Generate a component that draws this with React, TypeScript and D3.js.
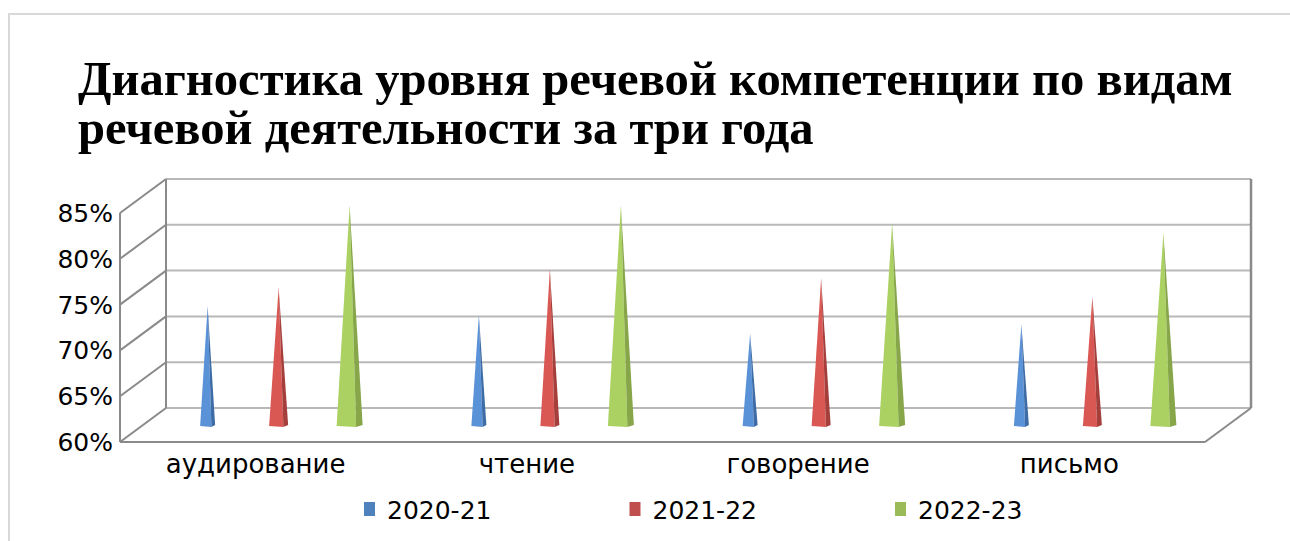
import * as d3 from "d3";

const title = ["Диагностика уровня речевой компетенции по видам", "речевой деятельности за три года"];
const categories = ["аудирование", "чтение", "говорение", "письмо"];
const seriesNames = ["2020-21", "2021-22", "2022-23"];
const s2020 = [0.73, 0.72, 0.70, 0.71];
const s2021 = [0.75, 0.77, 0.76, 0.74];
const s2022 = [0.84, 0.84, 0.82, 0.81];
const yTicks = [0.6, 0.65, 0.7, 0.75, 0.8, 0.85];

const seriesValues = [s2020, s2021, s2022];
const lightColors = ["#5a92d8", "#d95853", "#acd163"];
const darkColors = ["#3e6ca6", "#a53f3c", "#86a649"];
const legendColors = ["#4f81bd", "#c0504d", "#9bbb59"];
const coneWidths = [15, 19, 26];

// 3d box
const left = 120;
const right = 1205;
const bottom = 442;
const dx = 46;
const dy = -34;

export default function App() {
  const x = d3.scaleBand().domain(categories).range([left, right]);
  const inner = d3.scalePoint().domain(seriesNames).range([-71, 71]);
  const y = d3.scaleLinear().domain([0.6, 0.85]).range([bottom, 213]);
  const legendX = d3.scalePoint().domain(seriesNames).range([364, 895]);
  const fmt = d3.format(".0%");
  const top = y(0.85);
  const gridColor = "#b8b8b8";
  const edgeColor = "#8a8a8a";

  return (
    <svg width={1290} height={541} style={{ position: "absolute", left: 0, top: 0 }}>
      <rect x={9} y={14} width={1400} height={700} fill="#fff" stroke="#d9d9d9" strokeWidth={2} />

      {title.map((t, i) => (
        <text key={t} x={78} y={95 + i * 49} fontFamily="Liberation Serif" fontWeight="bold" fontSize={48.6} fill="#000">
          {t}
        </text>
      ))}

      {/* back wall gridlines */}
      {yTicks.map((t) => (
        <line key={"g" + t} x1={left + dx} x2={right + dx} y1={y(t) + dy} y2={y(t) + dy} stroke={gridColor} strokeWidth={2} />
      ))}
      {/* side wall diagonals */}
      {yTicks.map((t) => (
        <line key={"d" + t} x1={left} x2={left + dx} y1={y(t)} y2={y(t) + dy} stroke={edgeColor} strokeWidth={2} />
      ))}
      <line x1={left + dx} x2={left + dx} y1={top + dy} y2={bottom + dy} stroke={edgeColor} strokeWidth={2} />
      <line x1={right + dx} x2={right + dx} y1={top + dy} y2={bottom + dy} stroke={edgeColor} strokeWidth={2.5} />
      <line x1={left} x2={left} y1={top} y2={bottom} stroke={edgeColor} strokeWidth={2} />
      {/* floor */}
      <line x1={left} x2={right} y1={bottom} y2={bottom} stroke={edgeColor} strokeWidth={2} />
      <line x1={right} x2={right + dx} y1={bottom} y2={bottom + dy} stroke={edgeColor} strokeWidth={2} />

      {yTicks.map((t) => (
        <text key={"t" + t} x={113} y={y(t) + 9} textAnchor="end" fontFamily="DejaVu Sans" fontSize={25} fill="#000">
          {fmt(t)}
        </text>
      ))}

      {categories.map((c, ci) =>
        seriesNames.map((s, si) => {
          const v = seriesValues[si][ci];
          const cx = (x(c) as number) + x.bandwidth() / 2 + (inner(s) as number) + dx / 2;
          const by = y(0.6) + dy / 2 + 1;
          const ty = y(v) + dy / 2;
          const w = coneWidths[si];
          const split = cx + w * 0.25;
          return (
            <g key={c + s}>
              <polygon points={`${cx - w / 2},${by} ${cx},${ty} ${split},${by + 1}`} fill={lightColors[si]} />
              <polygon points={`${split},${by + 1} ${cx},${ty} ${cx + w / 2},${by - 1}`} fill={darkColors[si]} />
            </g>
          );
        })
      )}

      {categories.map((c) => (
        <text key={"c" + c} x={(x(c) as number) + x.bandwidth() / 2} y={473} textAnchor="middle" fontFamily="DejaVu Sans" fontSize={26} fill="#000">
          {c}
        </text>
      ))}

      {seriesNames.map((s, i) => (
        <g key={"l" + s} transform={`translate(${legendX(s)},502)`}>
          <rect x={0} y={0} width={11} height={14} fill={legendColors[i]} />
          <text x={23} y={17} fontFamily="DejaVu Sans" fontSize={25} fill="#000">
            {s}
          </text>
        </g>
      ))}
    </svg>
  );
}
